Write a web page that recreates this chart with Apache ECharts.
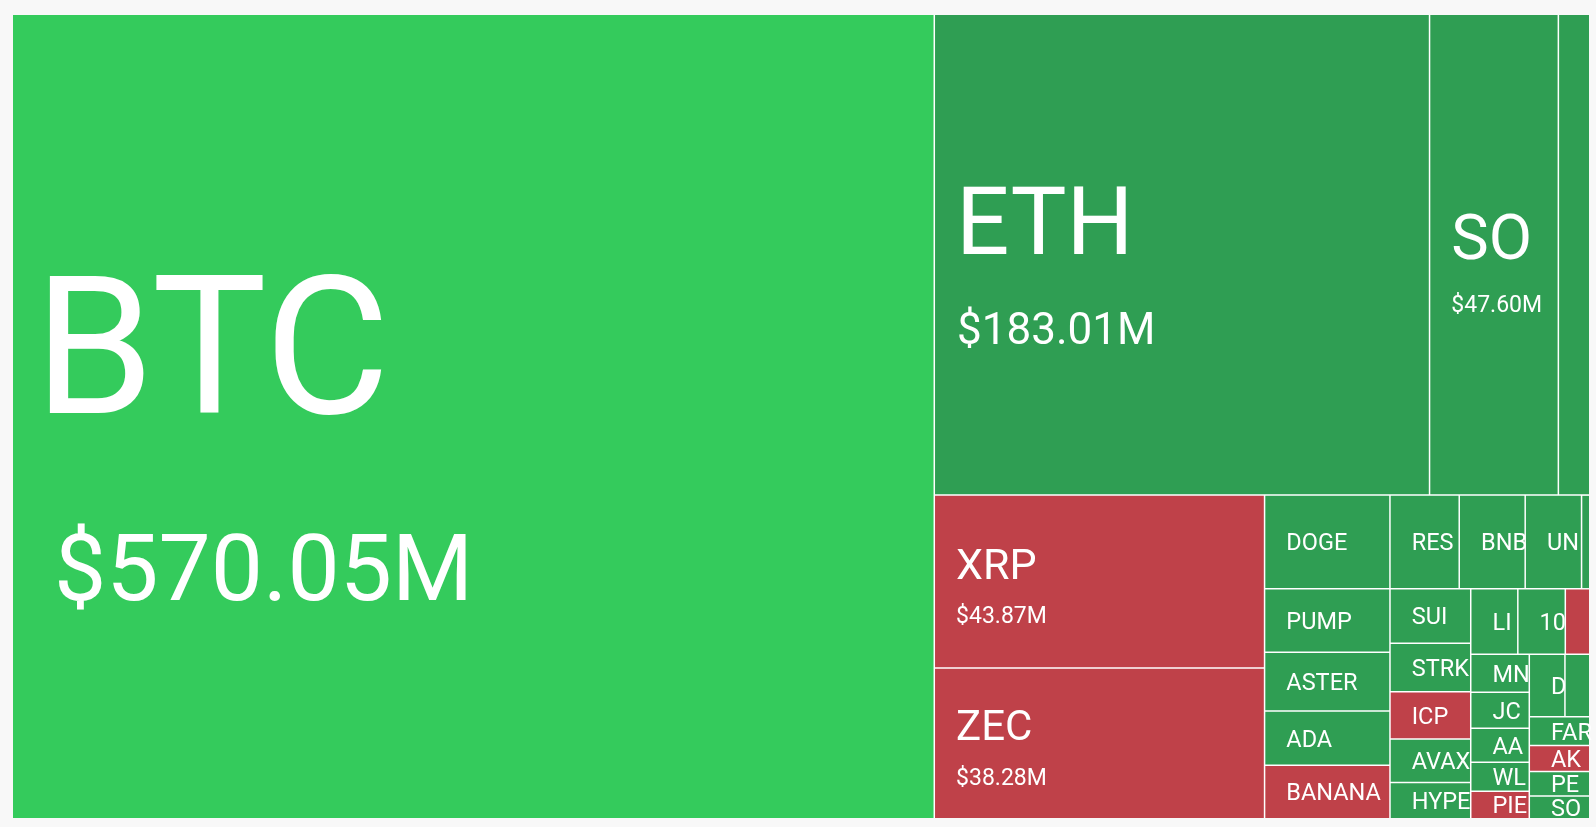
<!DOCTYPE html>
<html>
<head>
<meta charset="utf-8">
<title>Liquidations heatmap</title>
<script src="https://cdn.jsdelivr.net/npm/echarts@6.0.0/dist/echarts.min.js"></script>
<style>
  html, body { margin: 0; padding: 0; background: #f8f8f8; }
  #main { width: 1596px; height: 827px; }
</style>
</head>
<body>
<div id="main"></div>
<script>
// coins shown on the heatmap (biggest first)
const coins = ['BTC', 'ETH', 'SOL', 'GIGGLE', 'XRP', 'ZEC',
  'DOGE', 'RESOLV', 'BNB', 'UNI', 'ENA',
  'PUMP', 'ASTER', 'ADA', 'BANANAS31',
  'SUI', 'STRK', 'ICP', 'AVAX', 'HYPE',
  'LINK', '1000PEPE', 'ZEN',
  'MNT', 'JCT', 'AAVE', 'WLD', 'PIEVERSE',
  'DASH', 'VIRTUAL',
  'FARTCOIN', 'AKT', 'PENGU', 'SOON'];

// liquidations, million USD
const amounts = [570.05, 183.01, 47.60, 11.60, 43.87, 38.28,
  9.03, 4.99, 4.75, 4.06, 0.59,
  6.11, 5.67, 5.23, 5.15,
  3.38, 3.01, 2.93, 2.70, 2.25,
  2.37, 2.39, 1.23,
  1.71, 1.62, 1.53, 1.30, 1.24,
  1.71, 1.19,
  1.34, 1.20, 1.14, 1.06];

// 2 = strong up, 1 = up, -1 = down
const trend = [2, 1, 1, 1, -1, -1,
  1, 1, 1, 1, 1,
  1, 1, 1, -1,
  1, 1, -1, 1, 1,
  1, 1, -1,
  1, 1, 1, 1, -1,
  1, 1,
  1, -1, 1, 1];

// how the tiles are grouped (each pair is one split)
const topRow = [['ETH', 'SOL'], 'GIGGLE'];
const dogeRow = ['DOGE', [[['RESOLV', 'BNB'], 'UNI'], 'ENA']];
const pumpCol = ['PUMP', [['ASTER', 'ADA'], 'BANANAS31']];
const suiCol = ['SUI', ['STRK', ['ICP', ['AVAX', 'HYPE']]]];
const linkRow = [['LINK', '1000PEPE'], 'ZEN'];
const mntCol = ['MNT', ['JCT', ['AAVE', ['WLD', 'PIEVERSE']]]];
const tailBlock = [['DASH', 'VIRTUAL'], [['FARTCOIN', 'AKT'], ['PENGU', 'SOON']]];
const tiling = ['BTC', [topRow, [['XRP', 'ZEC'],
  [dogeRow, [pumpCol, [suiCol, [linkRow, [mntCol, tailBlock]]]]]]]];

const colors = { '2': '#34cb5c', '1': '#2f9e53', '-1': '#bf4149' };

// label sizes for the big tiles, the rest get the small one
const tiers = [
  { name: 193, value: 93, left: 21, indent: 20 },
  { name: 94, value: 44, left: 21, indent: 1 },
  { name: 63, value: 23, left: 21, indent: 0 },
  { name: 37, value: 21, left: 21, indent: 0 },
  { name: 43, value: 23, left: 21, indent: 0 },
  { name: 42, value: 23, left: 21, indent: 0 }
];
const small = { name: 23.5, left: 21, line: 20 };

// canvas 'middle' sits glyphs a bit high, push them down
function drop(size) {
  return Math.round(size * 0.22);
}

function labelFor(i) {
  const t = tiers[i];
  const font = { fontFamily: 'Roboto', color: '#fff' };
  if (!t) {
    return {
      // a little negative right padding lets the last letter reach the edge
      padding: [0, -4, 0, small.left],
      offset: [0, -small.line / 2],
      formatter: '{n|' + coins[i] + '}',
      rich: {
        n: Object.assign({ fontSize: small.name, lineHeight: small.line, padding: [drop(small.name), 0, 0, 0] }, font)
      }
    };
  }
  const nl = Math.round(t.name * 1.56);
  const vl = Math.round(t.value * 1.56);
  return {
    padding: [0, 0, 0, t.left],
    offset: [0, -(nl + vl) / 2],
    formatter: '{n|' + coins[i] + '}\n{v|$' + amounts[i].toFixed(2) + 'M}',
    rich: {
      n: Object.assign({ fontSize: t.name, lineHeight: nl, padding: [drop(t.name), 0, 0, 0] }, font),
      v: Object.assign({ fontSize: t.value, lineHeight: vl, padding: [drop(t.value), 0, 0, t.indent] }, font)
    }
  };
}

function toNode(entry) {
  if (Array.isArray(entry)) {
    return { name: '', children: entry.map(toNode) };
  }
  const i = coins.indexOf(entry);
  return {
    name: entry,
    value: amounts[i],
    itemStyle: { color: colors[trend[i]] },
    label: labelFor(i)
  };
}

const chart = echarts.init(document.getElementById('main'));

const option = {
  backgroundColor: '#f8f8f8',
  animation: false,
  textStyle: { fontFamily: 'Roboto' },
  series: [{
    type: 'treemap',
    left: 13,
    top: 15,
    width: 1576,
    height: 803,
    roam: false,
    nodeClick: false,
    silent: true,
    sort: false,
    squareRatio: 1.4,
    visibleMin: 0,
    breadcrumb: { show: false },
    itemStyle: { borderWidth: 0, gapWidth: 1.5, borderColor: '#ffffff' },
    upperLabel: { show: false },
    label: {
      show: true,
      position: [0, '50%'],
      color: '#fff',
      fontFamily: 'Roboto',
      overflow: 'truncate',
      ellipsis: ''
    },
    data: toNode(tiling).children
  }]
};

chart.setOption(option);
</script>
</body>
</html>
